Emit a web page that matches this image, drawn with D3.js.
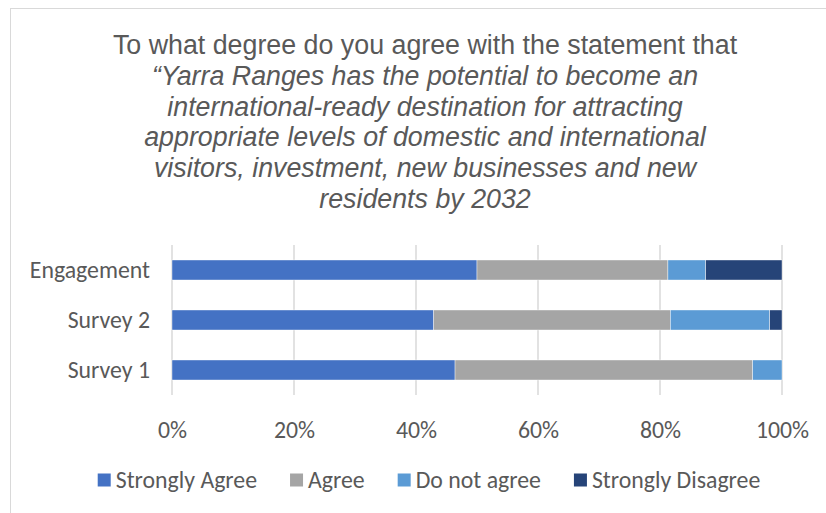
<!DOCTYPE html>
<html>
<head>
<meta charset="utf-8">
<script src="https://cdn.jsdelivr.net/npm/d3@7"></script>
<style>
  html, body { margin: 0; padding: 0; background: #fff; }
  svg { display: block; }
</style>
</head>
<body>
<svg id="chart" width="826" height="513"></svg>
<script>
// Response groups (top to bottom)
const categories = ["Engagement", "Survey 2", "Survey 1"];
// Answer options in stacking order
const seriesNames = ["Strongly Agree", "Agree", "Do not agree", "Strongly Disagree"];
// Share of responses (%) per group, by answer option
const stronglyAgree    = [50.0, 42.9, 46.4];
const agree            = [31.3, 38.8, 48.8];
const doNotAgree       = [6.2, 16.3, 4.8];
const stronglyDisagree = [12.5, 2.0, 0.0];
const tickValues = [0, 20, 40, 60, 80, 100];
const tickLabels = ["0%", "20%", "40%", "60%", "80%", "100%"];
const colors = ["#4472C4", "#A5A5A5", "#5B9BD5", "#264478"];
const titleLines = [
  { text: "To what degree do you agree with the statement that", italic: false },
  { text: "\u201CYarra Ranges has the potential to become an", italic: true },
  { text: "international-ready destination for attracting", italic: true },
  { text: "appropriate levels of domestic and international", italic: true },
  { text: "visitors, investment, new businesses and new", italic: true },
  { text: "residents by 2032", italic: true }
];

const svg = d3.select("#chart");
const textColor = "#595959";
const bodyFont = "Carlito, Lato, 'Open Sans', sans-serif";
const bodySize = 23.8;

// Chart frame
svg.append("rect")
  .attr("x", 10.5).attr("y", 8.5)
  .attr("width", 840).attr("height", 540)
  .attr("fill", "#fff").attr("stroke", "#d9d9d9").attr("stroke-width", 1);

// Title
const title = svg.append("g")
  .attr("font-family", "'Liberation Sans', Arial, sans-serif")
  .attr("font-size", 26.8)
  .attr("fill", textColor)
  .attr("text-anchor", "middle");
titleLines.forEach((l, i) => {
  title.append("text")
    .attr("x", 425)
    .attr("y", 54 + i * 30.8)
    .attr("font-style", l.italic ? "italic" : "normal")
    .text(l.text);
});

// Stack the series
const rows = categories.map((c, i) => ({
  category: c,
  "Strongly Agree": stronglyAgree[i],
  "Agree": agree[i],
  "Do not agree": doNotAgree[i],
  "Strongly Disagree": stronglyDisagree[i]
}));
const stacked = d3.stack().keys(seriesNames)(rows);

const x = d3.scaleLinear().domain([0, 100]).range([172, 782]);
const y = d3.scaleBand().domain(categories).range([245, 395])
  .paddingInner(0.6).paddingOuter(0.3);

// Vertical gridlines
svg.append("g")
  .selectAll("line")
  .data(tickValues)
  .join("line")
  .attr("x1", d => x(d)).attr("x2", d => x(d))
  .attr("y1", 245).attr("y2", 395)
  .attr("stroke", "#d9d9d9").attr("stroke-width", 1.5);

// Bars
svg.append("g")
  .selectAll("g")
  .data(stacked)
  .join("g")
  .attr("fill", (d, i) => colors[i])
  .selectAll("rect")
  .data(d => d)
  .join("rect")
  .attr("x", d => x(d[0]))
  .attr("y", d => y(d.data.category))
  .attr("width", d => Math.max(0, x(d[1]) - x(d[0])))
  .attr("height", y.bandwidth())
  .attr("stroke", "#fff").attr("stroke-width", 0.4);

// Category axis
const yAxis = svg.append("g")
  .attr("transform", "translate(172,0)")
  .call(d3.axisLeft(y).tickSize(0).tickPadding(22));
yAxis.select(".domain").remove();
yAxis.selectAll("text")
  .attr("font-family", bodyFont)
  .attr("font-size", bodySize)
  .attr("fill", textColor);

// Percentage axis
const xAxis = svg.append("g")
  .attr("transform", "translate(0,395)")
  .call(d3.axisBottom(x).tickValues(tickValues)
    .tickFormat((d, i) => tickLabels[i]).tickSize(0).tickPadding(26));
xAxis.select(".domain").remove();
xAxis.selectAll("text")
  .attr("font-family", bodyFont)
  .attr("font-size", bodySize)
  .attr("fill", textColor);

// Legend
const legend = svg.append("g")
  .attr("font-family", bodyFont)
  .attr("font-size", bodySize)
  .attr("fill", textColor);
const items = legend.selectAll("g")
  .data(seriesNames)
  .join("g");
items.append("rect")
  .attr("width", 13).attr("height", 13)
  .attr("y", -6.5)
  .attr("fill", (d, i) => colors[i]);
items.append("text")
  .attr("x", 18)
  .attr("dy", "0.35em")
  .text(d => d);
let offset = 0;
const positions = [];
items.each(function () {
  const w = this.querySelector("text").getComputedTextLength();
  positions.push(offset);
  offset += 18 + w + 33;
});
const total = offset - 33;
const startX = 429 - total / 2;
items.attr("transform", (d, i) => `translate(${startX + positions[i]},480)`);
</script>
</body>
</html>
